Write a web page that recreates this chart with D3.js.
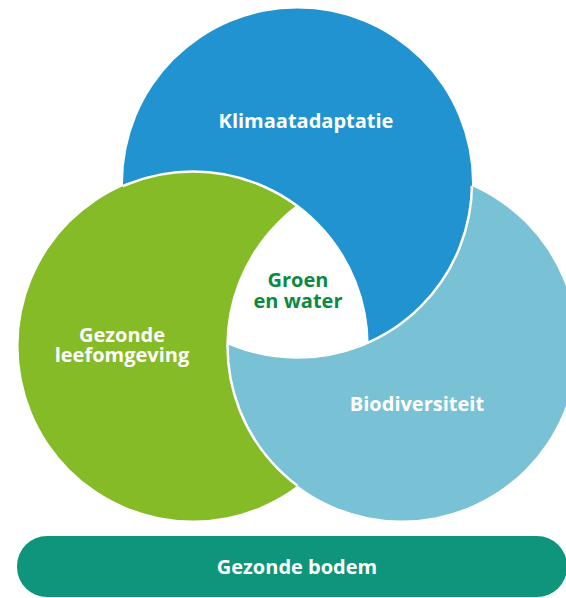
<!DOCTYPE html>
<html>
<head>
<meta charset="utf-8">
<script src="https://cdn.jsdelivr.net/npm/d3@7"></script>
<style>
  body { margin: 0; background: #fff; }
  text { font-family: "Open Sans", "Noto Sans", sans-serif; font-weight: 700; }
</style>
</head>
<body>
<div id="chart"></div>
<script>
// the three themes, the shared core and the base they stand on
const sets = ["Klimaatadaptatie", "Biodiversiteit", "Gezonde leefomgeving"];
const setLines = [["Klimaatadaptatie"], ["Biodiversiteit"], ["Gezonde", "leefomgeving"]];
const coreLines = ["Groen", "en water"];
const baseLabel = "Gezonde bodem";
// [upper, lower]: which circle is painted over which (it goes round)
const overlaps = [
  ["Gezonde leefomgeving", "Klimaatadaptatie"],
  ["Klimaatadaptatie", "Biodiversiteit"],
  ["Biodiversiteit", "Gezonde leefomgeving"]
];

const width = 566, height = 598;

const color = d3.scaleOrdinal()
    .domain(sets)
    .range(["#2193d1", "#79c2d5", "#85bb27"]);

// layout in unit coords, mapped to pixels through scales
const x = d3.scaleLinear().domain([0, 1]).range([19, 576]);
const y = d3.scaleLinear().domain([0, 1]).range([9, 520]);
const layout = {
  "Klimaatadaptatie":     {cx: 0.5,    cy: 0.3405, lx: 0.5153, ly: 0.2329},
  "Biodiversiteit":       {cx: 0.6876, cy: 0.6595, lx: 0.7145, ly: 0.7867},
  "Gezonde leefomgeving": {cx: 0.3124, cy: 0.6595, lx: 0.1849, ly: 0.6517}
};
const r = 174.5;

const svg = d3.select("#chart").append("svg")
    .attr("width", width)
    .attr("height", height);

const defs = svg.append("defs");

const circ = (s) => ({x: x(layout[s].cx), y: y(layout[s].cy)});
const slug = (s) => s.replace(/\s+/g, "-");

// a clip path and a "minus" mask for every circle
sets.forEach(s => {
  const c = circ(s);
  defs.append("clipPath").attr("id", "clip-" + slug(s))
    .append("circle").attr("cx", c.x).attr("cy", c.y).attr("r", r);
  const m = defs.append("mask").attr("id", "minus-" + slug(s))
      .attr("maskUnits", "userSpaceOnUse")
      .attr("x", 0).attr("y", 0).attr("width", width).attr("height", height);
  m.append("rect").attr("width", width).attr("height", height).style("fill", "#fff");
  m.append("circle").attr("cx", c.x).attr("cy", c.y).attr("r", r).style("fill", "#000");
});

// fills: each circle minus the one that lies over it
const fills = svg.append("g");
overlaps.forEach(([upper, lower]) => {
  const c = circ(lower);
  fills.append("circle")
    .attr("cx", c.x).attr("cy", c.y).attr("r", r)
    .attr("mask", "url(#minus-" + slug(upper) + ")")
    .style("fill", color(lower));
});
// the parts the upper circle covers
overlaps.forEach(([upper, lower]) => {
  const third = sets.find(s => s !== upper && s !== lower);
  const c = circ(upper);
  fills.append("g")
      .attr("clip-path", "url(#clip-" + slug(lower) + ")")
    .append("circle")
      .attr("cx", c.x).attr("cy", c.y).attr("r", r)
      .attr("mask", "url(#minus-" + slug(third) + ")")
      .style("fill", color(upper));
});

// white edges where one circle lies over the other
const edges = svg.append("g");
overlaps.forEach(([upper, lower]) => {
  const c = circ(upper);
  edges.append("g")
      .attr("clip-path", "url(#clip-" + slug(lower) + ")")
    .append("circle")
      .attr("cx", c.x).attr("cy", c.y).attr("r", r)
      .style("fill", "none")
      .style("stroke", "#fff")
      .style("stroke-width", 2.5);
});

// the white core shared by all three
const cA = circ(sets[0]);
svg.append("g").attr("clip-path", "url(#clip-" + slug(sets[1]) + ")")
  .append("g").attr("clip-path", "url(#clip-" + slug(sets[2]) + ")")
  .append("circle")
    .attr("cx", cA.x).attr("cy", cA.y).attr("r", r)
    .style("fill", "#fff");

// labels, one text per line
sets.forEach((s, i) => {
  setLines[i].forEach((line, j) => {
    svg.append("text")
      .attr("x", x(layout[s].lx))
      .attr("y", y(layout[s].ly) + j * 20)
      .attr("text-anchor", "middle")
      .style("fill", "#fff")
      .style("font-size", "20px")
      .text(line);
  });
});

coreLines.forEach((line, j) => {
  svg.append("text")
    .attr("x", 298).attr("y", 287 + j * 21)
    .attr("text-anchor", "middle")
    .style("fill", "#0b8a3f")
    .style("font-size", "20px")
    .text(line);
});

// base bar
svg.append("rect")
    .attr("x", 17).attr("y", 536)
    .attr("width", 550).attr("height", 61)
    .attr("rx", 30)
    .style("fill", "#0e957b");
svg.append("text")
    .attr("x", 297).attr("y", 574)
    .attr("text-anchor", "middle")
    .style("fill", "#fff")
    .style("font-size", "20px")
    .text(baseLabel);
</script>
</body>
</html>
